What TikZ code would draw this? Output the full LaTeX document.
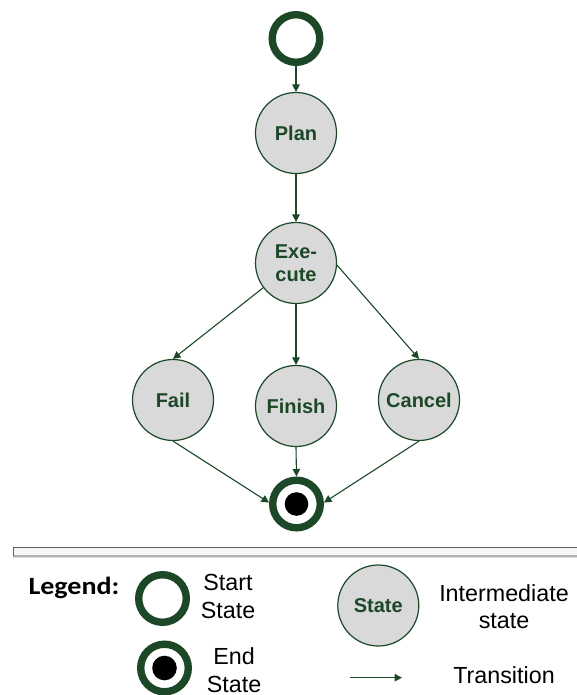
\documentclass[tikz,border=0pt]{standalone}
\usepackage{fontspec}
\setmainfont{Liberation Sans}
\newfontfamily\legfont{Carlito}
\usetikzlibrary{arrows.meta}
\definecolor{dg}{RGB}{28,72,40}
\definecolor{lg}{RGB}{217,217,217}
\tikzset{
  statebox/.style={circle, draw=dg, line width=1.2pt, fill=lg, minimum size=81pt, inner sep=0pt,
     text=dg, font=\bfseries\fontsize{20}{23.4}\selectfont, align=center},
  ringbox/.style={circle, draw=dg, line width=7.4pt, fill=white, minimum size=47.6pt, inner sep=0pt},
  arr/.style={draw=dg, line width=1.1pt, -{Triangle[length=7.5pt,width=7.5pt]}},
  legtext/.style={font=\fontsize{23.3}{27.5}\selectfont, align=center, inner sep=0pt, text=black},
}
\begin{document}
\begin{tikzpicture}[x=1pt,y=-1pt]
\useasboundingbox[fill=white] (0,0) rectangle (577,695);
% main diagram
\node[ringbox] (start) at (296,38.5) {};
\node[statebox] (plan) at (296,133) {Plan};
\node[statebox] (exec) at (296,263) {Exe-\\cute};
\node[statebox] (fail) at (173,400) {Fail};
\node[statebox] (finish) at (296,406) {Finish};
\node[statebox] (cancel) at (419,400) {Cancel};
\node[ringbox] (end) at (296.5,504) {};
\fill[black] (end.center) circle (11.8);
\draw[arr] (start.south) -- (plan.north);
\draw[arr] (plan.south) -- (exec.north);
\draw[arr] (exec.217) -- (fail.north);
\draw[arr] (exec.south) -- (finish.north);
\draw[arr] (exec.-3) -- (cancel.north);
\draw[arr] (fail.south) -- (end.177);
\draw[arr] (finish.south) -- (end.north);
\draw[arr] (cancel.south) -- (end.3);
% separator
\fill[gray!7] (13,547) rectangle (578,556);
\draw[gray!30, line width=1.2pt] (13,557.6) -- (578,557.6);
\draw[gray!60, line width=1.1pt] (13,556) -- (578,556);
\draw[gray!75!black, line width=1pt] (13,556) -- (13,547) -- (578,547);
% legend
\node[inner sep=0pt, anchor=base west] (leg) at (28.3,594.3) {\legfont\bfseries\fontsize{24.8}{28}\selectfont\scalebox{1.13}[1]{Legend:}};
\node[ringbox] (lstart) at (162.5,598.5) {};
\node[legtext] (lstarttxt) at (228,596.7) {Start\\State};
\node[ringbox] (lend) at (164.5,668) {};
\fill[black] (lend.center) circle (12.3);
\node[legtext] (lendtxt) at (234,670) {End\\State};
\node[statebox] (lstate) at (378.3,605.5) {State};
\node[legtext] (linttxt) at (504,606.5) {Intermediate\\state};
\coordinate (ta) at (350.3,677.7);
\coordinate (tb) at (402,677.7);
\draw[arr] (ta) -- (tb);
\node[legtext, anchor=base] (ltrtxt) at (504,683.3) {Transition};
\end{tikzpicture}
\end{document}
